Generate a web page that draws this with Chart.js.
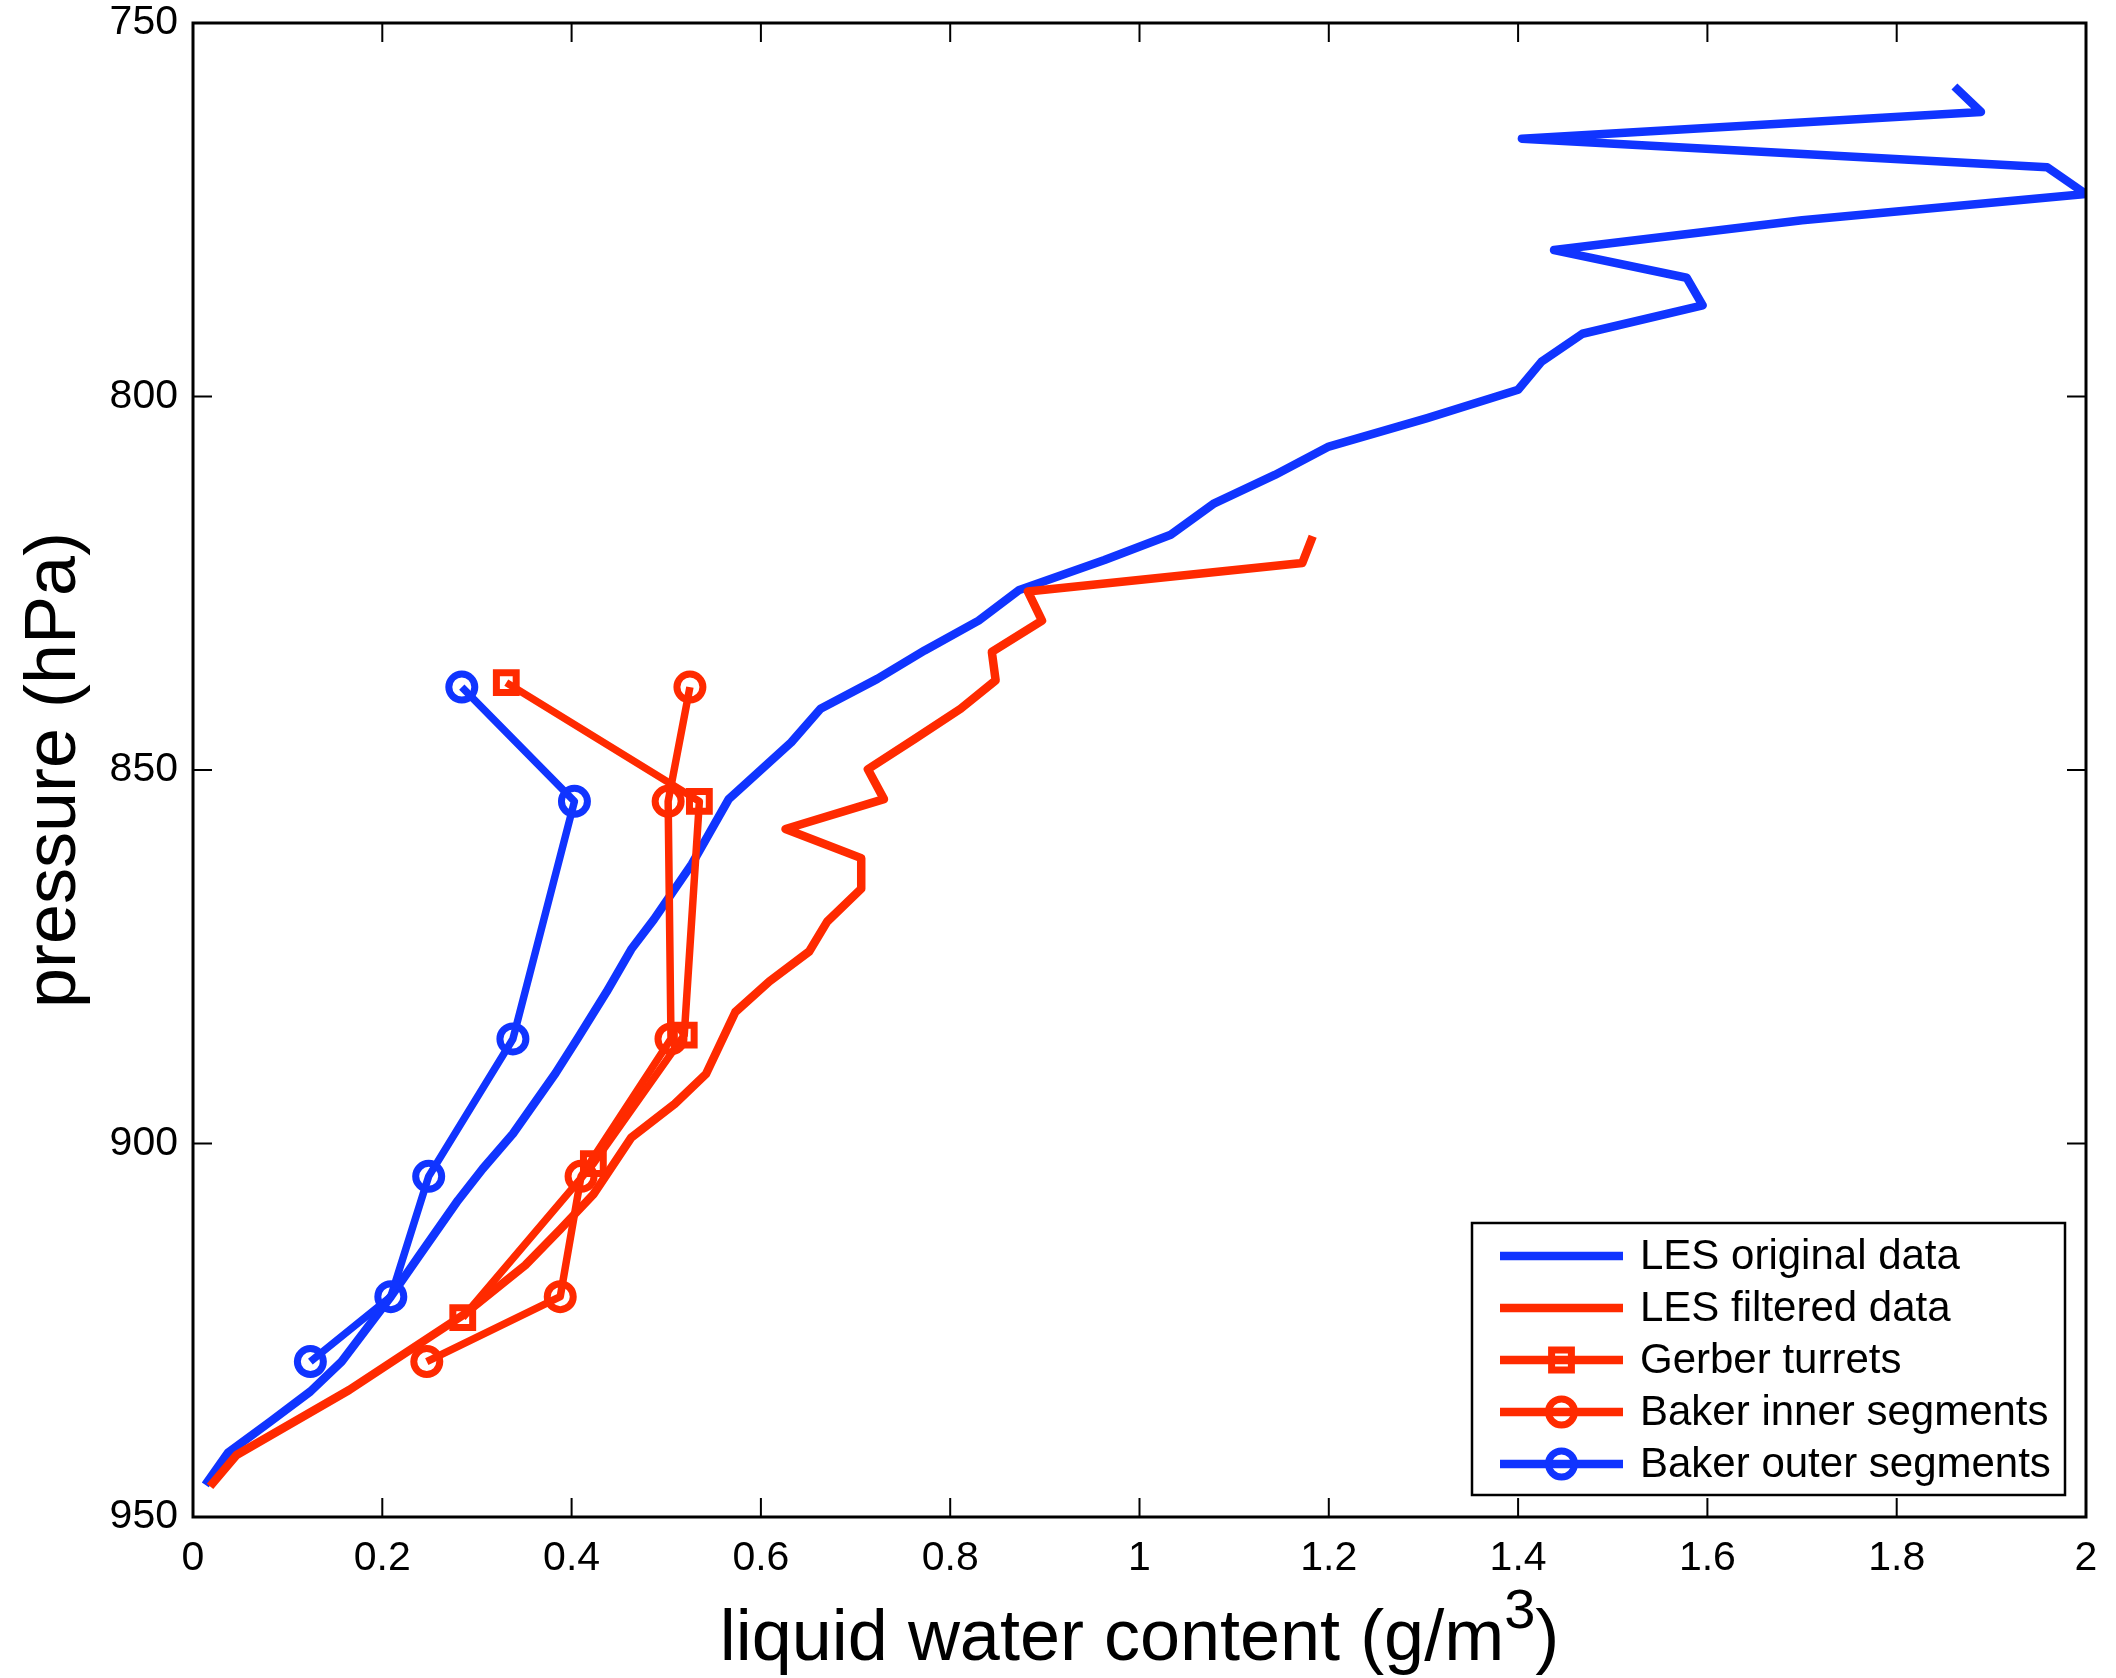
<!DOCTYPE html>
<html>
<head>
<meta charset="utf-8">
<script src="https://cdn.jsdelivr.net/npm/chart.js@4.4.1/dist/chart.umd.min.js"></script>
<style>
  html, body { margin: 0; padding: 0; background: #fff; }
  #wrap { width: 2116px; height: 1678px; }
</style>
</head>
<body>
<div id="wrap"><canvas id="lwcChart" width="2116" height="1678"></canvas></div>
<script>
// values (LWC in g/m3, pressure in hPa)
const origLwc = [0.013, 0.037, 0.082, 0.124, 0.157, 0.209, 0.238, 0.28, 0.306, 0.338, 0.383, 0.406, 0.437, 0.463, 0.487, 0.527, 0.566, 0.632, 0.663, 0.723, 0.773, 0.83, 0.873, 0.963, 1.033, 1.079, 1.143, 1.2, 1.304, 1.4, 1.425, 1.468, 1.595, 1.578, 1.438, 1.7, 2.0, 1.959, 1.404, 1.889, 1.861];
const origP = [945.7, 941.4, 937.2, 933.2, 929.2, 920.5, 915.2, 907.6, 903.4, 898.7, 890.6, 886, 879.7, 874, 870, 862.6, 853.9, 846.3, 841.8, 837.8, 834, 830, 825.9, 821.9, 818.5, 814.3, 810.5, 806.7, 802.9, 799.1, 795.3, 791.6, 787.8, 784.1, 780.4, 776.4, 772.9, 769.3, 765.5, 761.9, 758.5];

const filtLwc = [0.018, 0.046, 0.165, 0.285, 0.351, 0.388, 0.423, 0.463, 0.509, 0.542, 0.573, 0.609, 0.651, 0.67, 0.706, 0.706, 0.626, 0.73, 0.713, 0.763, 0.811, 0.848, 0.844, 0.897, 0.882, 1.172, 1.183];
const filtP = [945.9, 941.7, 933, 923, 916.3, 911.5, 906.8, 899.2, 894.7, 890.7, 882.4, 878.3, 874.3, 870.3, 865.9, 861.8, 857.9, 853.9, 849.9, 845.8, 841.8, 838, 834.2, 830, 826.1, 822.3, 818.7];

const gerberLwc = [0.331, 0.535, 0.519, 0.423, 0.285];
const gerberP = [838.3, 854.2, 885.5, 902.7, 923.3];

const bakerP = [838.9, 854.2, 886, 904.4, 920.5, 929.2];
const bakerInnerLwc = [0.525, 0.502, 0.505, 0.41, 0.388, 0.247];
const bakerOuterLwc = [0.284, 0.403, 0.338, 0.249, 0.209, 0.124];

const xTicks = [0, 0.2, 0.4, 0.6, 0.8, 1, 1.2, 1.4, 1.6, 1.8, 2];
const yTicks = [750, 800, 850, 900, 950];

const legendNames = ['LES original data', 'LES filtered data', 'Gerber turrets', 'Baker inner segments', 'Baker outer segments'];

const BLUE = '#1034ff';
const RED = '#ff2a00';
const FONT = '"Liberation Sans", Arial, Helvetica, sans-serif';

function toPoints(xs, ys) {
    return xs.map((x, i) => ({ x: x, y: ys[i] }));
}

function series(label, xs, ys, color, width, marker, order) {
    return {
        label: label,
        data: toPoints(xs, ys),
        showLine: true,
        borderColor: color,
        backgroundColor: 'rgba(0,0,0,0)',
        borderWidth: width,
        borderJoinStyle: 'round',
        borderCapStyle: 'butt',
        tension: 0,
        pointStyle: marker || 'circle',
        pointRadius: marker ? (marker === 'rect' ? 14 : 13) : 0,
        pointHoverRadius: 0,
        pointBorderColor: color,
        pointBackgroundColor: 'rgba(0,0,0,0)',
        pointBorderWidth: marker ? 7 : 0,
        order: order
    };
}

const datasets = [
    series(legendNames[0], origLwc, origP, BLUE, 8.5, null, 5),
    series(legendNames[1], filtLwc, filtP, RED, 8.5, null, 4),
    series(legendNames[2], gerberLwc, gerberP, RED, 7.5, 'rect', 3),
    series(legendNames[3], bakerInnerLwc, bakerP, RED, 7.5, 'circle', 2),
    series(legendNames[4], bakerOuterLwc, bakerP, BLUE, 7.5, 'circle', 1)
];

// box, inward ticks, legend and x title in the MATLAB look
const matlabFrame = {
    id: 'matlabFrame',
    afterDraw(chart) {
        const ctx = chart.ctx;
        const a = chart.chartArea;
        const xs = chart.scales.x, ys = chart.scales.y;
        ctx.save();
        ctx.strokeStyle = '#000';
        ctx.lineWidth = 2;
        const tl = 19;
        xTicks.forEach(v => {
            const px = xs.getPixelForValue(v);
            ctx.beginPath();
            ctx.moveTo(px, a.bottom); ctx.lineTo(px, a.bottom - tl);
            ctx.moveTo(px, a.top); ctx.lineTo(px, a.top + tl);
            ctx.stroke();
        });
        yTicks.forEach(v => {
            const py = ys.getPixelForValue(v);
            ctx.beginPath();
            ctx.moveTo(a.left, py); ctx.lineTo(a.left + tl, py);
            ctx.moveTo(a.right, py); ctx.lineTo(a.right - tl, py);
            ctx.stroke();
        });
        ctx.lineWidth = 3;
        ctx.strokeRect(a.left, a.top, a.right - a.left, a.bottom - a.top);

        // legend
        const bx = 1472, by = 1223, bw = 593, bh = 272;
        ctx.fillStyle = '#fff';
        ctx.fillRect(bx, by, bw, bh);
        ctx.lineWidth = 2.5;
        ctx.strokeStyle = '#000';
        ctx.strokeRect(bx, by, bw, bh);
        const legendOrder = [0, 1, 2, 3, 4];
        legendOrder.forEach((di, row) => {
            const ds = chart.data.datasets[di];
            const y = 1256 + row * 52;
            ctx.strokeStyle = ds.borderColor;
            ctx.lineWidth = 8.5;
            ctx.beginPath();
            ctx.moveTo(1500, y); ctx.lineTo(1623, y);
            ctx.stroke();
            if (ds.pointRadius > 0) {
                ctx.lineWidth = ds.pointBorderWidth;
                ctx.beginPath();
                if (ds.pointStyle === 'rect') {
                    const s = ds.pointRadius * Math.SQRT1_2;
                    ctx.rect(1561.5 - s, y - s, 2 * s, 2 * s);
                } else {
                    ctx.arc(1561.5, y, ds.pointRadius, 0, Math.PI * 2);
                }
                ctx.stroke();
            }
            ctx.fillStyle = '#000';
            ctx.font = '42px ' + FONT;
            ctx.textAlign = 'left';
            ctx.textBaseline = 'middle';
            ctx.fillText(ds.label, 1640, y + 1);
        });

        // x axis title with superscript
        const main = 'liquid water content (g/m';
        const sup = '3';
        const close = ')';
        ctx.font = '72px ' + FONT;
        const w1 = ctx.measureText(main).width;
        const w3 = ctx.measureText(close).width;
        ctx.font = '56px ' + FONT;
        const w2 = ctx.measureText(sup).width;
        const total = w1 + w2 + w3;
        const cx = (a.left + a.right) / 2;
        let x0 = cx - total / 2;
        const base = 1660;
        ctx.fillStyle = '#000';
        ctx.textAlign = 'left';
        ctx.textBaseline = 'alphabetic';
        ctx.font = '72px ' + FONT;
        ctx.fillText(main, x0, base);
        ctx.font = '56px ' + FONT;
        ctx.fillText(sup, x0 + w1, base - 32);
        ctx.font = '72px ' + FONT;
        ctx.fillText(close, x0 + w1 + w2, base);
        ctx.restore();
    }
};

document.addEventListener('DOMContentLoaded', function () {
    const ctx = document.getElementById('lwcChart').getContext('2d');
    window.lwcChart = new Chart(ctx, {
        type: 'scatter',
        data: { datasets: datasets },
        options: {
            responsive: false,
            animation: false,
            events: [],
            layout: { padding: { top: 23, right: 30, left: 0, bottom: 0 } },
            plugins: {
                legend: { display: false },
                tooltip: { enabled: false }
            },
            scales: {
                x: {
                    type: 'linear',
                    min: 0,
                    max: 2,
                    grid: { display: false, drawTicks: false },
                    border: { display: false },
                    afterBuildTicks: s => { s.ticks = xTicks.map(v => ({ value: v })); },
                    afterFit: s => { s.height = 161; s.paddingLeft = 0; s.paddingRight = 0; },
                    ticks: {
                        color: '#000',
                        padding: 17,
                        maxRotation: 0,
                        font: { family: FONT, size: 41 },
                        callback: v => String(Math.round(v * 10) / 10)
                    }
                },
                y: {
                    type: 'linear',
                    reverse: true,
                    min: 750,
                    max: 950,
                    grid: { display: false, drawTicks: false },
                    border: { display: false },
                    afterBuildTicks: s => { s.ticks = yTicks.map(v => ({ value: v })); },
                    afterFit: s => { s.width = 193; s.paddingTop = 0; s.paddingBottom = 0; },
                    ticks: {
                        color: '#000',
                        padding: 15,
                        font: { family: FONT, size: 41 },
                        callback: v => String(v)
                    },
                    title: {
                        display: true,
                        text: 'pressure (hPa)',
                        color: '#000',
                        font: { family: FONT, size: 72 },
                        padding: { top: 12, bottom: 0 }
                    }
                }
            }
        },
        plugins: [matlabFrame]
    });
});
</script>
</body>
</html>
